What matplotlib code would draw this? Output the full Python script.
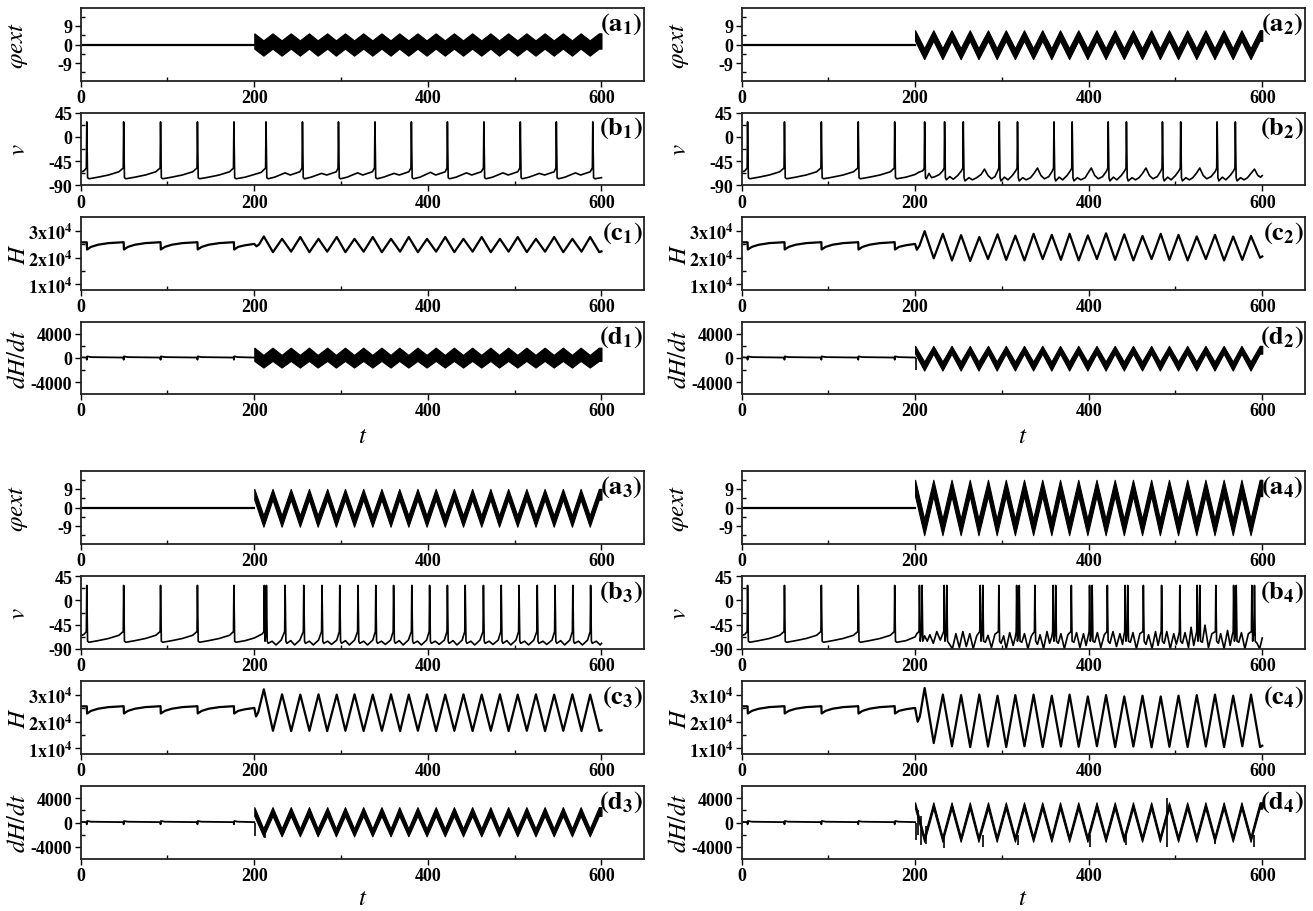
import numpy as np
import matplotlib
matplotlib.use("Agg")
import matplotlib.pyplot as plt

plt.rcParams["font.family"] = ["Liberation Serif", "DejaVu Serif"]
plt.rcParams["mathtext.fontset"] = "stix"
plt.rcParams["axes.unicode_minus"] = False

# ---------------- data ----------------
# peaks / troughs of the periodic drive (phi_ext and dH/dt), t >= 200
drive_pk_t = [200, 221, 242, 263, 284, 304.5, 325.5, 346.5, 367, 388, 409, 430,
              451, 472, 492.5, 513.5, 534.5, 555.5, 576, 597]
drive_tr_t = [210.5, 231.5, 252.5, 273, 294, 315, 336, 357, 377.5, 398.5, 419.5,
              440.5, 461.5, 482, 503, 524, 545, 566, 586.5]

# phi_ext band edges per case: upper edge at peak / trough, lower edge at peak / trough
phi_hi_pk = [5.4, 6.9, 9.0, 13.4]
phi_hi_tr = [2.0, -1.8, -3.8, -5.5]
phi_lo_pk = [-2.0, 1.8, 3.8, 5.5]
phi_lo_tr = [-5.4, -7.1, -9.3, -13.4]

# dH/dt band edges per case
dh_hi_pk = [1700, 2000, 2550, 3350]
dh_hi_tr = [500, -600, -1000, -2300]
dh_lo_pk = [-500, 700, 1100, 2300]
dh_lo_tr = [-1600, -2100, -2300, -3200]

# dH/dt before the drive is switched on
dh_pre_t = [0, 6.8, 7, 7.4, 12, 49.3, 49.5, 49.9, 54, 91.8, 92, 92.4, 97,
            134.3, 134.5, 134.9, 139, 176.3, 176.5, 176.9, 181, 200]
dh_pre_v = [100, 60, -300, 250, 130, 60, -300, 250, 130, 60, -300, 250, 130,
            60, -300, 250, 130, 60, -300, 250, 130, 60]

# sharp excursions of dH/dt (time, low, high)
dh_spk_t = [[], [201], [200.5, 212],
            [201, 203.5, 207, 213, 233, 278, 318, 401, 443, 490, 546, 590]]
dh_spk_lo = [[], [-2000], [-2200, -2600],
             [-2900, -2000, -3800, -3500, -4300, -4100, -3700, -4000, -3800, -4000, -3600, -4100]]
dh_spk_hi = [[], [0], [0, -500],
             [0, 2000, 1000, -500, -2000, -2000, -2000, -2000, -2000, 4000, -2000, -2000]]

# membrane potential v, common part (t < 200)
v_pre_spk = [7, 49.5, 92, 134.5, 176.5]
v_pre_t = [0, 4, 9.5, 20, 32, 44, 52, 62.5, 74.5, 86.5, 94.5, 105, 117, 129,
           137, 147.5, 159.5, 171.5, 179, 189.5]
v_pre_v = [-66, -63, -78, -75, -71, -65, -78, -75, -71, -65, -78, -75, -71, -65,
           -78, -75, -71, -65, -78, -75]

# case 1
v1_spk = [213.5, 255.5, 297, 339, 381, 422.5, 464.5, 506.5, 548, 590]
v1_t = [200, 208,
        216, 223.5, 235.5, 241.5, 252.5,
        258, 265.5, 277.5, 283.5, 294.5,
        299.5, 307, 319, 325, 336,
        341.5, 349, 361, 367, 378,
        383.5, 391, 403, 409, 420,
        425, 432.5, 444.5, 450.5, 461.5,
        467, 474.5, 486.5, 492.5, 503.5,
        509, 516.5, 528.5, 534.5, 545.5,
        550.5, 558, 570, 576, 587,
        592.5, 600]
v1_v = [-70, -66,
        -78, -75, -67, -71, -65,
        -78, -75, -68, -71, -65,
        -78, -75, -67, -71, -65,
        -78, -75, -68, -71, -65,
        -78, -75, -66, -71, -65,
        -78, -75, -67, -71, -65,
        -78, -75, -67, -71, -65,
        -78, -75, -68, -71, -65,
        -78, -75, -67, -71, -65,
        -78, -76]

# case 2
v2_spk = [211, 234, 255.5, 297, 318, 360, 381, 422.5, 443.5, 485, 506, 548, 569]
v2_t = [200, 204, 209,
        213, 216, 219, 223, 228, 232,
        236, 240, 244, 249, 253.5,
        257.5, 262, 266, 271, 276, 280, 284, 288, 292, 295,
        299, 303, 307, 312, 316,
        320, 324, 328, 333, 337, 341, 345, 349, 354, 358,
        362, 366, 370, 375, 379,
        383, 387, 391, 396, 399, 403, 407, 411, 416, 420.5,
        424.5, 428.5, 432.5, 437.5, 441.5,
        445.5, 450, 454, 458, 462, 466, 470, 474, 479, 483,
        487, 491, 495, 500, 504,
        508, 512, 516, 520, 524, 528, 532, 536, 541, 546,
        550, 554, 558, 563, 567,
        571, 575, 579, 583, 587, 591, 595, 598, 600]
v2_v = [-70, -66, -63,
        -78, -68, -76, -74, -70, -63,
        -80, -74, -79, -72, -63,
        -82, -76, -80, -76, -70, -60, -72, -78, -74, -64,
        -82, -75, -80, -72, -63,
        -82, -76, -80, -76, -68, -58, -72, -78, -74, -64,
        -82, -75, -80, -72, -63,
        -82, -76, -80, -76, -68, -58, -72, -78, -74, -64,
        -82, -75, -80, -72, -63,
        -82, -76, -80, -76, -68, -58, -72, -78, -74, -64,
        -82, -75, -80, -72, -63,
        -82, -76, -80, -76, -68, -58, -72, -78, -74, -64,
        -82, -75, -80, -72, -63,
        -82, -76, -80, -76, -68, -60, -72, -75, -72]

# case 3
v3_spk = [211.5, 214, 235.5, 257, 278, 298.5, 319.5, 340, 360.5, 381.5, 402,
          422.5, 443, 464, 484.5, 505, 526, 546.5, 567, 587.5]
v3_t = [200, 205, 209.5,
        216, 220.5, 225, 231,
        237.5, 242, 246.5, 252.5,
        259, 263.5, 268, 274,
        280, 284.5, 289, 295,
        300.5, 305, 309.5, 315.5,
        321.5, 326, 330.5, 336.5,
        342, 346.5, 351, 357,
        362.5, 367, 371.5, 377.5,
        383.5, 388, 392.5, 398.5,
        404, 408.5, 413, 419,
        424.5, 429, 433.5, 439.5,
        445, 449.5, 454, 460,
        466, 470.5, 475, 481,
        486.5, 491, 495.5, 501.5,
        507, 511.5, 516, 522,
        528, 532.5, 537, 543,
        548.5, 553, 557.5, 563.5,
        569, 573.5, 578, 584,
        589.5, 594, 598.5, 600]
v3_v = [-70, -66, -62,
        -80, -76, -83, -74,
        -80, -75, -83, -74,
        -80, -76, -83, -74,
        -80, -76, -82, -74,
        -80, -75, -83, -74,
        -80, -76, -83, -74,
        -80, -76, -82, -74,
        -80, -75, -83, -74,
        -80, -76, -83, -74,
        -80, -76, -82, -74,
        -80, -75, -83, -74,
        -80, -76, -83, -74,
        -80, -76, -82, -74,
        -80, -75, -83, -74,
        -80, -76, -83, -74,
        -80, -76, -82, -74,
        -80, -75, -83, -74,
        -80, -76, -83, -74,
        -80, -76, -83, -80]

# case 4
v4_spk = [205, 208, 233.5, 236.5, 275, 278, 296.5, 317, 320, 338, 359, 362, 380,
          401, 404, 421.5, 442, 445, 463, 484, 505, 525, 528, 546.5, 567, 570, 588, 591]
v4_t = [200, 202,
        211, 214, 217, 221, 225, 229, 232,
        239, 243, 247, 251, 255, 259, 263, 267, 271,
        281, 284, 288, 292,
        299, 302, 305, 309, 313, 315.5,
        323, 326, 330, 334,
        341, 344, 348, 352, 355, 357.5,
        365, 368, 372, 376,
        383, 386, 390, 394, 397, 399.5,
        407, 410, 414, 418,
        424.5, 428, 432, 436, 439, 440.5,
        448, 451, 455, 459,
        466, 469, 473, 477, 480, 482.5,
        487, 490, 494, 498, 501, 503.5,
        508, 511, 515, 518, 521, 523.5,
        531, 534, 538, 542,
        549.5, 552, 556, 560, 563, 565.5,
        573, 576, 580, 584,
        594, 597, 600]
v4_v = [-68, -62,
        -66, -76, -64, -80, -58, -74, -62,
        -80, -90, -62, -88, -58, -86, -62, -90, -66,
        -78, -65, -88, -63,
        -80, -66, -90, -60, -84, -68,
        -78, -62, -90, -66,
        -82, -64, -90, -58, -80, -68,
        -80, -62, -90, -64,
        -78, -60, -88, -62, -84, -66,
        -78, -60, -88, -64,
        -80, -58, -86, -62, -82, -66,
        -78, -60, -90, -62,
        -82, -64, -90, -58, -84, -64,
        -80, -58, -90, -62, -82, -66,
        -80, -60, -88, -50, -84, -66,
        -78, -46, -88, -62,
        -80, -62, -90, -56, -84, -64,
        -78, -60, -90, -62,
        -80, -90, -70]

v_spk_post = [v1_spk, v2_spk, v3_spk, v4_spk]
v_t_post = [v1_t, v2_t, v3_t, v4_t]
v_v_post = [v1_v, v2_v, v3_v, v4_v]

# H (in units of 1e4), common part t < 200
h_pre_t = [0, 7, 7.3, 12, 20, 32, 49.5, 49.8, 54.5, 62.5, 74.5, 92, 92.3, 97,
           105, 117, 134.5, 134.8, 139.5, 147.5, 159.5, 176.5, 176.8, 181.5, 189.5]
h_pre_v = [2.58, 2.58, 2.31, 2.41, 2.49, 2.55, 2.585, 2.31, 2.41, 2.49, 2.55, 2.585,
           2.31, 2.41, 2.49, 2.55, 2.585, 2.31, 2.41, 2.49, 2.55, 2.585, 2.31, 2.41, 2.47]
h_pk_t = [211, 232, 253, 274, 295, 315.5, 336.5, 357.5, 378, 399, 420, 441, 462,
          483, 503.5, 524.5, 545.5, 566.5, 587]
h_tr_t = [221.5, 242.5, 263.5, 284, 305, 326, 347, 368, 388.5, 409.5, 430.5, 451.5,
          472.5, 493, 514, 535, 556, 577, 597.5]
h_init_t = [[200, 202.5, 205.5], [200, 202, 205], [200, 202, 204.5], [200, 203, 205.5]]
h_init_v = [[2.52, 2.43, 2.5], [2.52, 2.3, 2.45], [2.52, 2.2, 2.35], [2.52, 2.0, 2.2]]
h_pk = [
    [2.80, 2.71, 2.78, 2.71, 2.78, 2.71, 2.78, 2.71, 2.78, 2.71, 2.78, 2.71, 2.78, 2.71, 2.78, 2.71, 2.78, 2.71, 2.78],
    [3.0, 2.9, 2.85, 2.78, 2.88, 2.83, 2.9, 2.86, 2.9, 2.84, 2.92, 2.88, 2.82, 2.9, 2.86, 2.8, 2.86, 2.8, 2.82],
    [3.22, 3.03, 3.02, 3.03, 3.02, 3.03, 3.02, 3.03, 3.02, 3.03, 3.02, 3.03, 3.02, 3.03, 3.02, 3.03, 3.02, 3.03, 3.02],
    [3.27, 3.02, 3.0, 3.02, 2.98, 3.0, 3.02, 2.98, 3.02, 2.95, 3.0, 2.95, 2.98, 2.95, 2.98, 3.0, 3.02, 2.98, 3.02],
]
h_tr = [
    [2.21, 2.23, 2.21, 2.23, 2.21, 2.23, 2.21, 2.23, 2.21, 2.23, 2.21, 2.23, 2.21, 2.23, 2.21, 2.23, 2.21, 2.23, 2.21],
    [1.98, 1.9, 1.88, 1.95, 1.92, 1.9, 1.95, 1.92, 1.9, 1.95, 1.92, 1.9, 1.95, 1.92, 1.9, 1.95, 1.9, 1.92, 2.0],
    [1.66, 1.65, 1.66, 1.65, 1.66, 1.65, 1.66, 1.65, 1.66, 1.65, 1.66, 1.65, 1.66, 1.65, 1.66, 1.65, 1.66, 1.65, 1.66],
    [1.2, 1.08, 1.05, 1.07, 1.05, 1.08, 1.05, 1.07, 1.06, 1.08, 1.05, 1.07, 1.04, 1.06, 1.05, 1.07, 1.05, 1.08, 1.05],
]
h_end = [2.24, 2.05, 1.68, 1.1]


# ---------------- helpers ----------------
def merge(t_lists, v_lists):
    t = np.concatenate([np.asarray(x, float) for x in t_lists])
    v = np.concatenate([np.asarray(x, float) for x in v_lists])
    order = np.argsort(t, kind="stable")
    return t[order], v[order]


def with_spikes(sub_t, sub_v, spk, thr=-58, peak=28, reset=-76):
    st, sv = [], []
    for s in spk:
        st += [s - 0.5, s, s + 0.9]
        sv += [thr, peak, reset]
    return merge([sub_t, st], [sub_v, sv])


def band_edge(v_pk, v_tr):
    return merge([drive_pk_t, drive_tr_t, [600]],
                 [np.full(len(drive_pk_t), v_pk), np.full(len(drive_tr_t), v_tr), [v_pk]])


def style(ax, yt, ylab, ymin, ylim, ylabel):
    ax.set_xlim(0, 649)
    ax.set_ylim(*ylim)
    ax.set_xticks([0, 200, 400, 600])
    ax.set_xticklabels(["0", "200", "400", "600"])
    ax.set_xticks([100, 300, 500], minor=True)
    ax.set_yticks(yt)
    ax.set_yticklabels(ylab)
    ax.set_yticks(ymin, minor=True)
    ax.tick_params(which="major", direction="out", length=4, width=1, pad=2, labelsize=13)
    ax.tick_params(which="minor", direction="in", length=3, width=1)
    for lbl in ax.get_xticklabels() + ax.get_yticklabels():
        lbl.set_fontweight("bold")
    for sp in ax.spines.values():
        sp.set_linewidth(1.3)
        sp.set_color("#222222")
    ax.set_ylabel(ylabel, fontsize=18)
    ax.yaxis.label.set_va("center")
    ax.yaxis.set_label_coords(-0.11, 0.5)


def panel_tag(ax, letter, n):
    ax.text(0.998, 0.975, r"$\mathbf{(%s}_{\mathbf{%d}}\mathbf{)}$" % (letter, n),
            transform=ax.transAxes, ha="right", va="top", fontsize=19)


# ---------------- figure ----------------
W, H = 1313, 912
fig = plt.figure(figsize=(W / 100, H / 100), dpi=100)
col_left = [80.7, 741.5]
ax_w, ax_h = 563.3, 72.4
row_top = [[9.3, 113.8, 218.3, 322.7], [472.3, 577.3, 682.3, 787.3]]
t_label_y = [437, 899]


def add_ax(g, c, r):
    top = row_top[g][r]
    return fig.add_axes([col_left[c] / W, 1 - (top + ax_h) / H, ax_w / W, ax_h / H])


for i in range(4):
    g, c = i // 2, i % 2
    n = i + 1

    # (a) phi_ext
    ax = add_ax(g, c, 0)
    ax.plot([0, 200], [0, 0], color="black", lw=1.6)
    tt, up = band_edge(phi_hi_pk[i], phi_hi_tr[i])
    _, lo = band_edge(phi_lo_pk[i], phi_lo_tr[i])
    ax.fill_between(tt, lo, up, color="black", lw=0.8)
    style(ax, [-9, 0, 9], ["-9", "0", "9"], [-13.5, -4.5, 4.5, 13.5], (-17.5, 17.5),
          r"$\varphi ext$")
    panel_tag(ax, "a", n)

    # (b) v
    ax = add_ax(g, c, 1)
    tv, vv = with_spikes(v_pre_t + v_t_post[i], v_pre_v + v_v_post[i],
                         v_pre_spk + v_spk_post[i])
    ax.plot(tv, vv, color="black", lw=1.2)
    style(ax, [-90, -45, 0, 45], ["-90", "-45", "0", "45"], [-67.5, -22.5, 22.5],
          (-90, 45), r"$v$")
    panel_tag(ax, "b", n)

    # (c) H
    ax = add_ax(g, c, 2)
    th, hv = merge([h_pre_t, h_init_t[i], h_pk_t, h_tr_t, [600]],
                   [h_pre_v, h_init_v[i], h_pk[i], h_tr[i], [h_end[i]]])
    ax.plot(th, hv * 1e4, color="black", lw=1.6)
    style(ax, [1e4, 2e4, 3e4],
          [r"$\mathbf{1x10^{4}}$", r"$\mathbf{2x10^{4}}$", r"$\mathbf{3x10^{4}}$"],
          [1.5e4, 2.5e4], (0.8e4, 3.52e4), r"$H$")
    panel_tag(ax, "c", n)

    # (d) dH/dt
    ax = add_ax(g, c, 3)
    ax.plot(dh_pre_t, dh_pre_v, color="black", lw=1.3)
    tt, up = band_edge(dh_hi_pk[i], dh_hi_tr[i])
    _, lo = band_edge(dh_lo_pk[i], dh_lo_tr[i])
    ax.fill_between(tt, lo, up, color="black", lw=0.8)
    if dh_spk_t[i]:
        ax.vlines(dh_spk_t[i], dh_spk_lo[i], dh_spk_hi[i], color="black", lw=1.2)
    style(ax, [-4000, 0, 4000], ["-4000", "0", "4000"], [-2000, 2000], (-6000, 6000),
          r"$dH/dt$")
    panel_tag(ax, "d", n)
    ax.set_xlabel(r"$t$", fontsize=18)
    ax.xaxis.label.set_va("center")
    bottom = row_top[g][3] + ax_h
    ax.xaxis.set_label_coords(0.5, -(t_label_y[g] - bottom) / ax_h)

fig.savefig("out.png", dpi=100)
